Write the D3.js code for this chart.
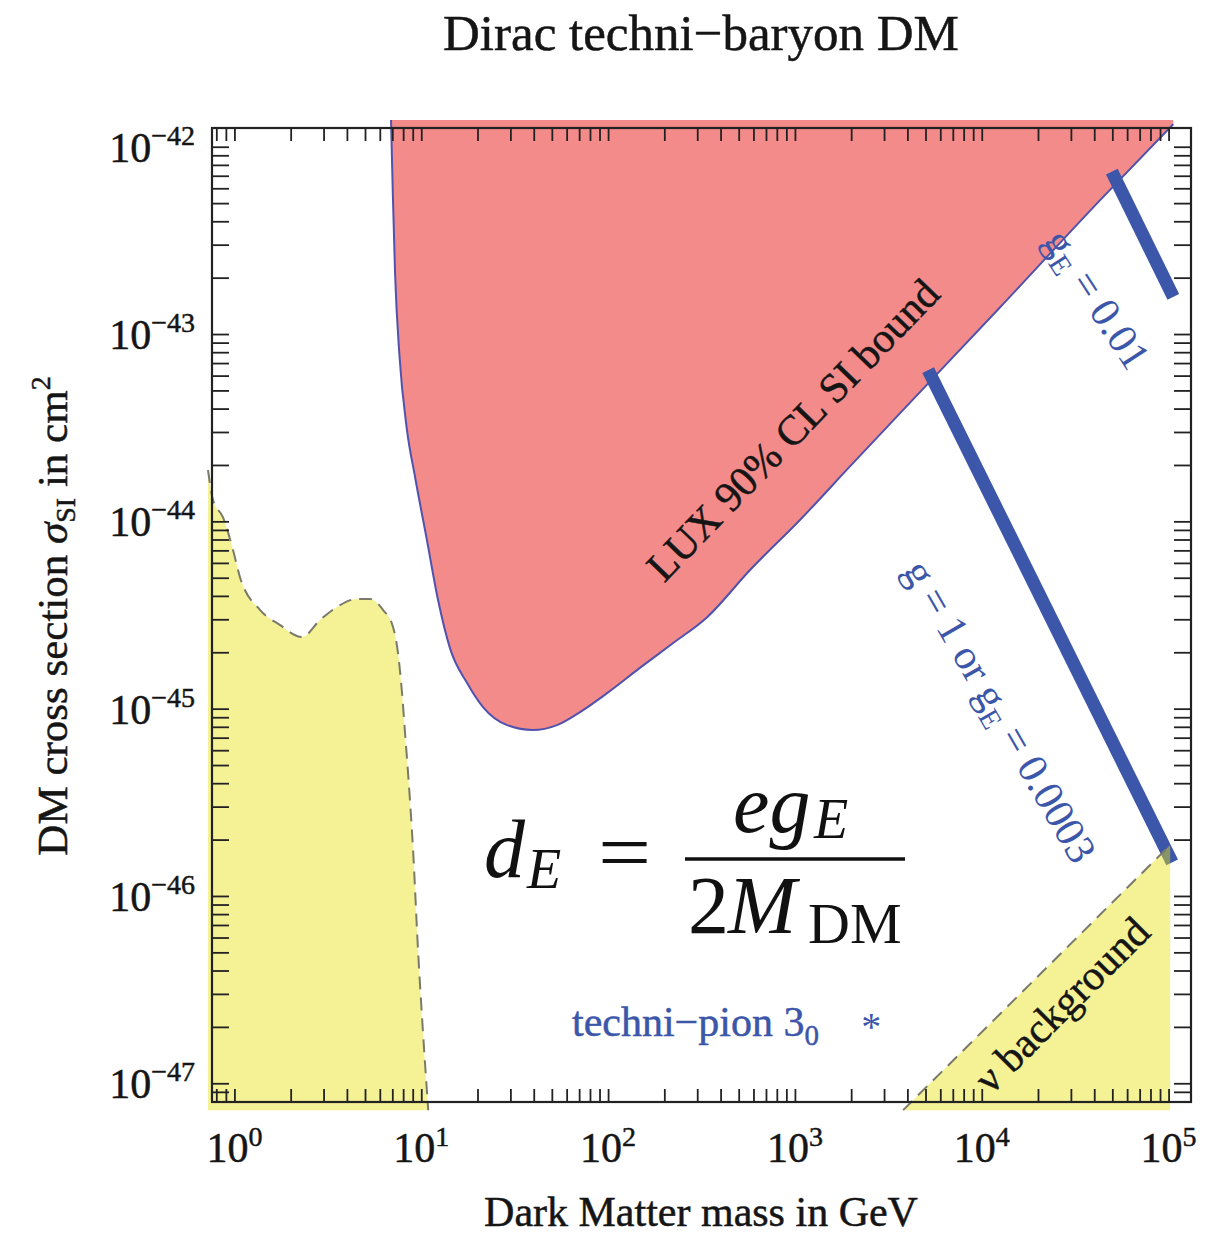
<!DOCTYPE html>
<html><head><meta charset="utf-8">
<script src="https://cdn.jsdelivr.net/npm/d3@7"></script>
<style>body{margin:0;background:#fff} svg{display:block}</style>
</head><body>
<svg id="chart" width="1225" height="1234"></svg>
<script>
// ---------------- data ----------------
const xDecades = [0, 1, 2, 3, 4, 5];
const yDecades = [-47, -46, -45, -44, -43, -42];
const minorMult = [2, 3, 4, 5, 6, 7, 8, 9];

// LUX 90% CL SI bound (mass in GeV, sigma in cm^2)
const luxMass  = [6.89, 7.04, 7.24, 7.64, 8.36, 9.27, 10.7, 12.3, 14.3, 17.6, 21.4, 28.8, 39.6, 53.3, 70.8, 98.8, 148, 223, 339, 575, 1067, 1976, 3656, 12540, 43000, 105900];
const luxSigma = [1.39e-42, 5.73e-43, 2.12e-43, 7.73e-44, 3.15e-44, 1.72e-44, 8.04e-45, 3.80e-45, 2.08e-45, 1.37e-45, 1.02e-45, 8.17e-46, 7.69e-46, 8.17e-46, 9.59e-46, 1.21e-45, 1.65e-45, 2.24e-45, 3.08e-45, 5.50e-45, 1.02e-44, 1.97e-44, 3.78e-44, 1.39e-43, 5.19e-43, 1.32e-42];
const luxTop = 1.39e-42;

// low-mass region (left, yellow)
const lowMass  = [0.722, 0.768, 0.869, 0.983, 1.07, 1.37, 1.75, 2.30, 2.87, 3.54, 4.53, 5.32, 6.24, 7.06, 7.51, 7.89, 8.19, 8.50, 9.04, 9.61, 10.2, 10.9];
const lowSigma = [1.88e-44, 1.30e-44, 1.05e-44, 7.03e-45, 5.05e-45, 3.37e-45, 2.80e-45, 2.41e-45, 2.97e-45, 3.49e-45, 3.85e-45, 3.85e-45, 3.37e-45, 2.73e-45, 1.98e-45, 1.21e-45, 7.41e-46, 4.53e-46, 1.76e-46, 5.14e-47, 1.92e-47, 7.18e-48];
const fillBottom = 7.18e-48;

// neutrino background (bottom right, yellow)
const nuMass  = [3794, 102000];
const nuSigma = [7.19e-48, 1.87e-46];

// techni-baryon predictions (thick blue lines)
const g1Mass  = [5166, 104500];
const g1Sigma = [6.41e-44, 1.51e-46];
const g2Mass  = [49700, 106000];
const g2Sigma = [7.36e-43, 1.58e-43];

// techni-pion marker
const pionMass = [2560];
const pionSigma = [2.12e-47];

// ---------------- layout ----------------
const L = 212, R = 1191, T = 128, B = 1102;
const svg = d3.select("#chart");
const serif = "'Liberation Serif','Times New Roman',serif";
const x = d3.scaleLog().domain([Math.pow(10, -0.12), Math.pow(10, 5.12)]).range([L, R]);
const y = d3.scaleLog().domain([Math.pow(10, -47.1), Math.pow(10, -41.9)]).range([B, T]);

const blue = "#3c56a9";
const ink = "#151515";
const yellowFill = "rgba(233,226,22,0.45)";

svg.append("rect").attr("width", 1225).attr("height", 1234).attr("fill", "#fff");

// LUX region
const luxData = luxMass.map((m, i) => [m, luxSigma[i]]);
svg.append("path").datum(luxData)
  .attr("d", d3.area().x(d => x(d[0])).y0(() => y(luxTop)).y1(d => y(d[1])).curve(d3.curveMonotoneX))
  .attr("fill", "#f38b8a");
svg.append("path").datum(luxData)
  .attr("d", d3.line().x(d => x(d[0])).y(d => y(d[1])).curve(d3.curveMonotoneX))
  .attr("fill", "none").attr("stroke", "#5052ae").attr("stroke-width", 2);

// thick blue lines
[[g1Mass, g1Sigma], [g2Mass, g2Sigma]].forEach(([ms, ss]) => {
  svg.append("path").datum(ms.map((m, i) => [m, ss[i]]))
    .attr("d", d3.line().x(d => x(d[0])).y(d => y(d[1])))
    .attr("stroke", blue).attr("stroke-width", 13).attr("fill", "none").attr("stroke-linecap", "butt");
});

// yellow regions
const lowData = lowMass.map((m, i) => [m, lowSigma[i]]);
svg.append("path").datum(lowData)
  .attr("d", d3.area().x(d => x(d[0])).y0(() => y(fillBottom)).y1(d => y(d[1])).curve(d3.curveMonotoneX))
  .attr("fill", yellowFill);
svg.append("path").datum(lowData)
  .attr("d", d3.line().x(d => x(d[0])).y(d => y(d[1])).curve(d3.curveMonotoneX))
  .attr("fill", "none").attr("stroke", "#7a7a6a").attr("stroke-width", 2).attr("stroke-dasharray", "13,8");

const nuData = nuMass.map((m, i) => [m, nuSigma[i]]);
svg.append("path").datum(nuData)
  .attr("d", d3.area().x(d => x(d[0])).y0(() => y(fillBottom)).y1(d => y(d[1])))
  .attr("fill", yellowFill);
svg.append("path").datum(nuData)
  .attr("d", d3.line().x(d => x(d[0])).y(d => y(d[1])))
  .attr("fill", "none").attr("stroke", "#7a7a6a").attr("stroke-width", 2).attr("stroke-dasharray", "13,8");

// ---------------- axes / frame ----------------
function logTicks(scale, decLo, decHi) {
  const [a, b] = scale.domain();
  const out = [];
  for (let d = decLo; d <= decHi; d++) for (const k of [1, ...minorMult]) {
    const v = k * Math.pow(10, d);
    if (v >= a * 0.999 && v <= b * 1.001) out.push(v);
  }
  return out;
}
const xTicks = logTicks(x, -1, 5);
const yTicks = logTicks(y, -48, -42);

function styleAxis(g) {
  g.select(".domain").remove();
  g.selectAll(".tick line").attr("stroke", "#222").attr("stroke-width", 1.8);
  g.selectAll(".tick text").remove();
}
svg.append("g").attr("transform", `translate(0,${B})`)
  .call(d3.axisBottom(x).tickValues(xTicks).tickSizeInner(-13).tickSizeOuter(0).tickFormat("")).call(styleAxis);
svg.append("g").attr("transform", `translate(0,${T})`)
  .call(d3.axisTop(x).tickValues(xTicks).tickSizeInner(-13).tickSizeOuter(0).tickFormat("")).call(styleAxis);
svg.append("g").attr("transform", `translate(${L},0)`)
  .call(d3.axisLeft(y).tickValues(yTicks).tickSizeInner(-17).tickSizeOuter(0).tickFormat("")).call(styleAxis);
svg.append("g").attr("transform", `translate(${R},0)`)
  .call(d3.axisRight(y).tickValues(yTicks).tickSizeInner(-17).tickSizeOuter(0).tickFormat("")).call(styleAxis);

svg.append("rect").attr("x", L).attr("y", T).attr("width", R - L).attr("height", B - T)
  .attr("fill", "none").attr("stroke", "#222").attr("stroke-width", 2.2);

function heavy(sel, color) {
  return sel.attr("fill", color).attr("stroke", color).attr("stroke-width", 0.5);
}

// tick labels
xDecades.forEach(d => {
  const t = heavy(svg.append("text").attr("x", x(Math.pow(10, d))).attr("y", 1162)
    .attr("text-anchor", "middle").attr("font-family", serif).attr("font-size", 42), ink);
  t.append("tspan").text("10");
  t.append("tspan").attr("dy", -16).attr("font-size", 28).text(String(d));
});
yDecades.forEach(d => {
  const t = heavy(svg.append("text").attr("x", 195).attr("y", y(Math.pow(10, d)) + 15)
    .attr("text-anchor", "end").attr("font-family", serif).attr("font-size", 42), ink);
  t.append("tspan").text("10");
  t.append("tspan").attr("dy", -17).attr("font-size", 28).text("\u2212" + String(-d));
});

// titles
heavy(svg.append("text").attr("x", 701).attr("y", 50).attr("text-anchor", "middle")
  .attr("font-family", serif).attr("font-size", 51).text("Dirac techni\u2212baryon DM"), ink);
heavy(svg.append("text").attr("x", 701).attr("y", 1226).attr("text-anchor", "middle")
  .attr("font-family", serif).attr("font-size", 42).text("Dark Matter mass in GeV"), ink);
{
  const t = heavy(svg.append("text").attr("transform", "translate(67,616) rotate(-90)").attr("text-anchor", "middle")
    .attr("font-family", serif).attr("font-size", 43), ink);
  t.append("tspan").text("DM cross section ");
  t.append("tspan").attr("font-style", "italic").text("\u03c3");
  t.append("tspan").attr("dy", 8).attr("font-size", 28).text("SI");
  t.append("tspan").attr("dy", -8).text(" in cm");
  t.append("tspan").attr("dy", -17).attr("font-size", 28).text("2");
}

// annotations
heavy(svg.append("text").attr("transform", "translate(793,430) rotate(-46)").attr("text-anchor", "middle").attr("dy", "0.33em")
  .attr("font-family", serif).attr("font-size", 42).text("LUX 90% CL SI bound"), ink);

{
  const t = svg.append("text").attr("transform", "translate(999,712) rotate(60)").attr("text-anchor", "middle").attr("dy", "0.3em")
    .attr("font-family", serif).attr("font-size", 42).attr("fill", blue);
  t.append("tspan").text("g = 1 or g");
  t.append("tspan").attr("dy", 8).attr("font-size", 29).text("E");
  t.append("tspan").attr("dy", -8).text(" = 0.0003");
}
{
  const t = svg.append("text").attr("transform", "translate(1096,300) rotate(57)").attr("text-anchor", "middle").attr("dy", "0.3em")
    .attr("font-family", serif).attr("font-size", 42).attr("fill", blue);
  t.append("tspan").text("g");
  t.append("tspan").attr("dy", 8).attr("font-size", 29).text("E");
  t.append("tspan").attr("dy", -8).text(" = 0.01");
}
heavy(svg.append("text").attr("transform", "translate(1062,1005) rotate(-45)").attr("text-anchor", "middle").attr("dy", "0.33em")
  .attr("font-family", serif).attr("font-size", 42).text("\u03bd background"), ink);

{
  const t = heavy(svg.append("text").attr("x", 572).attr("y", 1036)
    .attr("font-family", serif).attr("font-size", 42), blue);
  t.append("tspan").text("techni\u2212pion 3");
  t.append("tspan").attr("dy", 9).attr("font-size", 29).text("0");
}
svg.selectAll(".pion").data(pionMass).enter().append("text").attr("class", "pion")
  .attr("x", (d) => x(d)).attr("y", (d, i) => y(pionSigma[i]) + 18)
  .attr("text-anchor", "middle").attr("font-family", serif).attr("font-size", 40).attr("fill", blue).text("*");

// formula d_E = e g_E / (2 M_DM)
{
  const f = svg.append("g").attr("font-family", serif).attr("fill", "#111");
  f.append("text").attr("x", 484).attr("y", 877).attr("font-size", 82).attr("font-style", "italic").text("d");
  f.append("text").attr("x", 527).attr("y", 888).attr("font-size", 56).attr("font-style", "italic").text("E");
  f.append("text").attr("x", 598).attr("y", 880).attr("font-size", 82).attr("transform", "translate(598,0) scale(1.15,1) translate(-598,0)").text("=");
  f.append("line").attr("x1", 685).attr("x2", 905).attr("y1", 859).attr("y2", 859).attr("stroke", "#111").attr("stroke-width", 3.5);
  f.append("text").attr("x", 733).attr("y", 832).attr("font-size", 82).attr("font-style", "italic").text("eg");
  f.append("text").attr("x", 814).attr("y", 838).attr("font-size", 56).attr("font-style", "italic").text("E");
  f.append("text").attr("x", 688).attr("y", 933).attr("font-size", 82).text("2");
  f.append("text").attr("x", 728).attr("y", 933).attr("font-size", 82).attr("font-style", "italic").text("M");
  f.append("text").attr("x", 808).attr("y", 943).attr("font-size", 58).text("DM");
}
</script>
</body></html>
